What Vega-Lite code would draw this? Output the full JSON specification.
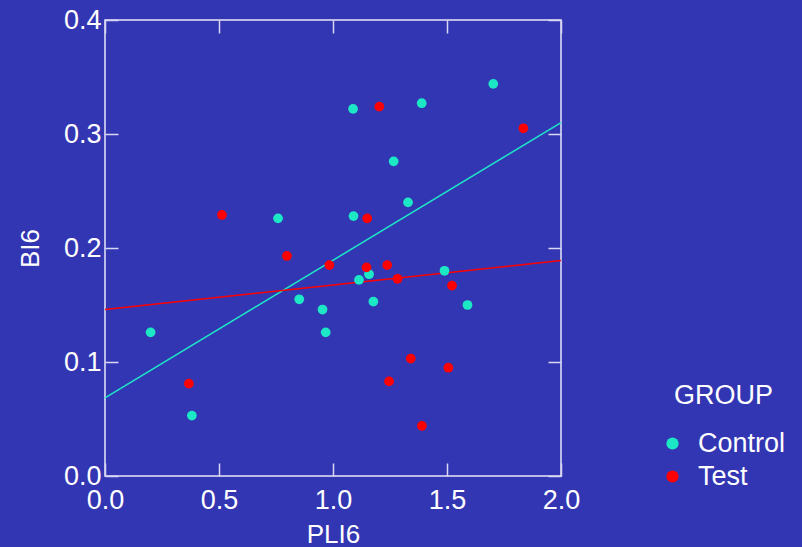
{
  "$schema": "https://vega.github.io/schema/vega-lite/v6.json",
  "width": 456,
  "height": 456,
  "autosize": {"type": "none"},
  "padding": {"left": 105, "top": 20, "right": 241, "bottom": 71},
  "background": "#3336b2",
  "config": {
    "view": {"stroke": "#e8e8fa", "strokeWidth": 1.5},
    "font": "Liberation Sans",
    "axis": {
      "grid": false,
      "domain": false,
      "labelColor": "white",
      "titleColor": "white",
      "labelFont": "Liberation Sans",
      "titleFont": "Liberation Sans",
      "labelFontSize": 27,
      "titleFontSize": 26,
      "titleFontWeight": "normal",
      "labelFlush": false,
      "labelOverlap": false,
      "tickColor": "#d8d8f4",
      "tickSize": 13,
      "tickWidth": 1.5,
      "offset": -13
    },
    "legend": {
      "labelFont": "Liberation Sans",
      "titleFont": "Liberation Sans",
      "labelColor": "white",
      "titleColor": "white",
      "labelFontSize": 27,
      "titleFontSize": 27,
      "titleFontWeight": "normal"
    }
  },
  "datasets": {
    "points": [
      {"PLI6": 1.703, "BI6": 0.344, "GROUP": "Control"},
      {"PLI6": 1.088, "BI6": 0.322, "GROUP": "Control"},
      {"PLI6": 1.389, "BI6": 0.327, "GROUP": "Control"},
      {"PLI6": 1.266, "BI6": 0.276, "GROUP": "Control"},
      {"PLI6": 1.329, "BI6": 0.240, "GROUP": "Control"},
      {"PLI6": 1.090, "BI6": 0.228, "GROUP": "Control"},
      {"PLI6": 1.158, "BI6": 0.177, "GROUP": "Control"},
      {"PLI6": 1.114, "BI6": 0.172, "GROUP": "Control"},
      {"PLI6": 1.489, "BI6": 0.180, "GROUP": "Control"},
      {"PLI6": 0.759, "BI6": 0.226, "GROUP": "Control"},
      {"PLI6": 0.852, "BI6": 0.155, "GROUP": "Control"},
      {"PLI6": 0.954, "BI6": 0.146, "GROUP": "Control"},
      {"PLI6": 0.968, "BI6": 0.126, "GROUP": "Control"},
      {"PLI6": 0.200, "BI6": 0.126, "GROUP": "Control"},
      {"PLI6": 0.381, "BI6": 0.053, "GROUP": "Control"},
      {"PLI6": 1.177, "BI6": 0.153, "GROUP": "Control"},
      {"PLI6": 1.590, "BI6": 0.150, "GROUP": "Control"},
      {"PLI6": 0.513, "BI6": 0.229, "GROUP": "Test"},
      {"PLI6": 0.798, "BI6": 0.193, "GROUP": "Test"},
      {"PLI6": 0.984, "BI6": 0.185, "GROUP": "Test"},
      {"PLI6": 1.203, "BI6": 0.324, "GROUP": "Test"},
      {"PLI6": 1.835, "BI6": 0.305, "GROUP": "Test"},
      {"PLI6": 1.150, "BI6": 0.226, "GROUP": "Test"},
      {"PLI6": 1.147, "BI6": 0.183, "GROUP": "Test"},
      {"PLI6": 1.238, "BI6": 0.185, "GROUP": "Test"},
      {"PLI6": 1.283, "BI6": 0.173, "GROUP": "Test"},
      {"PLI6": 0.368, "BI6": 0.081, "GROUP": "Test"},
      {"PLI6": 1.522, "BI6": 0.167, "GROUP": "Test"},
      {"PLI6": 1.341, "BI6": 0.103, "GROUP": "Test"},
      {"PLI6": 1.506, "BI6": 0.095, "GROUP": "Test"},
      {"PLI6": 1.246, "BI6": 0.083, "GROUP": "Test"},
      {"PLI6": 1.390, "BI6": 0.044, "GROUP": "Test"}
    ],
    "lines": [
      {"PLI6": 0.0, "BI6": 0.0685, "GROUP": "Control"},
      {"PLI6": 2.0, "BI6": 0.310, "GROUP": "Control"},
      {"PLI6": 0.0, "BI6": 0.146, "GROUP": "Test"},
      {"PLI6": 2.0, "BI6": 0.189, "GROUP": "Test"}
    ]
  },
  "layer": [
    {
      "data": {"name": "lines"},
      "mark": {"type": "line", "strokeWidth": 1.5},
      "encoding": {
        "x": {"field": "PLI6", "type": "quantitative", "scale": {"domain": [0, 2], "nice": false},
              "axis": {"orient": "top", "labels": false, "title": null, "values": [0, 0.5, 1, 1.5, 2]}},
        "y": {"field": "BI6", "type": "quantitative", "scale": {"domain": [0, 0.4], "nice": false},
              "axis": {"orient": "right", "labels": false, "title": null, "values": [0, 0.1, 0.2, 0.3, 0.4]}},
        "color": {"field": "GROUP", "type": "nominal",
                  "scale": {"domain": ["Control", "Test"], "range": ["#1de8c6", "#ff0000"]}}
      }
    },
    {
      "data": {"name": "points"},
      "mark": {"type": "circle", "size": 95, "opacity": 1},
      "encoding": {
        "x": {"field": "PLI6", "type": "quantitative", "scale": {"domain": [0, 2], "nice": false},
              "axis": {"orient": "bottom", "title": "PLI6", "values": [0, 0.5, 1, 1.5, 2], "format": ".1f",
                       "labelPadding": 11, "titlePadding": 8}},
        "y": {"field": "BI6", "type": "quantitative", "scale": {"domain": [0, 0.4], "nice": false},
              "axis": {"orient": "left", "title": "BI6", "values": [0, 0.1, 0.2, 0.3, 0.4], "format": ".1f",
                       "labelPadding": 4, "titlePadding": 20}},
        "color": {"field": "GROUP", "type": "nominal",
                  "scale": {"domain": ["Control", "Test"], "range": ["#1de8c6", "#ff0000"]},
                  "legend": {"title": "GROUP", "orient": "none", "legendX": 569, "legendY": 363,
                             "symbolSize": 150, "symbolType": "circle", "symbolFillColor": null,
                             "symbolStrokeWidth": 0, "symbolOffset": -15, "titlePadding": 20,
                             "rowPadding": 5, "labelOffset": 12}}
      }
    }
  ],
  "resolve": {"axis": {"x": "independent", "y": "independent"}}
}
